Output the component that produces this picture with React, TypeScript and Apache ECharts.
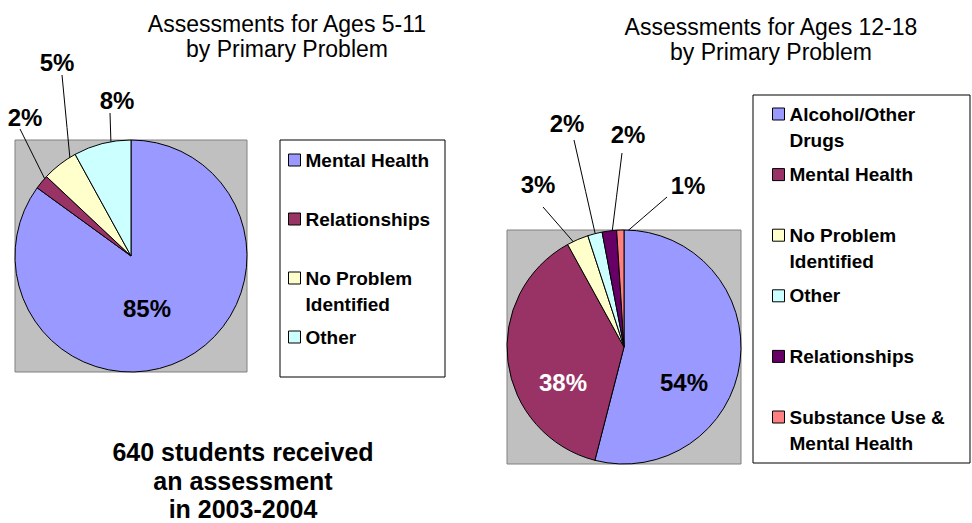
import React, { useEffect, useRef } from "react";
import * as echarts from "echarts";

// ---------- data ----------
const leftCategories = ["Mental Health", "Relationships", "No Problem Identified", "Other"];
const leftValues = [85, 2, 5, 8];
const leftLegendText = ["Mental Health", "Relationships", "No Problem\nIdentified", "Other"];

const rightCategories = [
  "Alcohol/Other Drugs",
  "Mental Health",
  "No Problem Identified",
  "Other",
  "Relationships",
  "Substance Use & Mental Health",
];
const rightValues = [54, 38, 3, 2, 2, 1];
const rightLegendText = [
  "Alcohol/Other\nDrugs",
  "Mental Health",
  "No Problem\nIdentified",
  "Other",
  "Relationships",
  "Substance Use &\nMental Health",
];

const leftTitle = ["Assessments for Ages 5-11", "by Primary Problem"];
const rightTitle = ["Assessments for Ages 12-18", "by Primary Problem"];
const footnote = ["640 students received", "an assessment", "in 2003-2004"];

// ---------- styles / layout ----------
const FONT = "'Liberation Sans', Arial, Helvetica, sans-serif";
const leftColors = ["#9999FF", "#993366", "#FFFFCC", "#CCFFFF"];
const rightColors = ["#9999FF", "#993366", "#FFFFCC", "#CCFFFF", "#660066", "#FF8080"];

const LEFT_PIE = { cx: 131, cy: 256, r: 116 };
const RIGHT_PIE = { cx: 624, cy: 347, r: 117 };

type Spot = { at: number[]; lineEnd?: number[]; lineFrom?: number; color?: string };
const leftLabelSpots: Spot[] = [
  { at: [147, 308] },
  { at: [25, 117], lineEnd: [20, 129], lineFrom: 0.91 },
  { at: [57, 62], lineEnd: [62, 75], lineFrom: 0.83 },
  { at: [117, 100], lineEnd: [110, 113], lineFrom: 0.65 },
];
const rightLabelSpots: Spot[] = [
  { at: [684, 382] },
  { at: [563, 382], color: "#ffffff" },
  { at: [538, 184], lineEnd: [543, 207], lineFrom: 0.87 },
  { at: [567, 123], lineEnd: [574, 140], lineFrom: 0.92 },
  { at: [628, 134], lineEnd: [622, 153], lineFrom: 0.9 },
  { at: [688, 185], lineEnd: [667, 197], lineFrom: 0.94 },
];

const LEGEND_LH = 26;

function makeLabelLayout(values: number[], pie: { cx: number; cy: number; r: number }, spots: Spot[]) {
  const total = values.reduce((a, b) => a + b, 0);
  return (params: any) => {
    const i = params.dataIndex;
    const spot = spots[i];
    const res: any = { x: spot.at[0], y: spot.at[1], align: "center", verticalAlign: "middle" };
    if (spot.lineEnd) {
      let cum = 0;
      for (let k = 0; k < i; k++) cum += values[k];
      const a = ((cum + values[i] / 2) / total) * Math.PI * 2;
      const rr = pie.r * (spot.lineFrom || 0.8);
      const s = [pie.cx + rr * Math.sin(a), pie.cy - rr * Math.cos(a)];
      const e = spot.lineEnd;
      res.labelLinePoints = [s, [(s[0] + e[0]) / 2, (s[1] + e[1]) / 2], e];
    }
    return res;
  };
}

function makePie(
  names: string[],
  values: number[],
  colors: string[],
  pie: { cx: number; cy: number; r: number },
  spots: Spot[]
) {
  return {
    type: "pie",
    center: [pie.cx, pie.cy],
    radius: pie.r,
    startAngle: 90,
    clockwise: true,
    avoidLabelOverlap: false,
    silent: true,
    z: 3,
    itemStyle: { borderColor: "#000", borderWidth: 1 },
    label: {
      show: true,
      position: "outside",
      formatter: "{c}%",
      fontFamily: FONT,
      fontSize: 24,
      fontWeight: "bold",
      color: "#000",
    },
    labelLine: { show: true, length: 10, length2: 0, lineStyle: { color: "#000", width: 1 } },
    labelLayout: makeLabelLayout(values, pie, spots),
    data: names.map((n, i) => {
      const d: any = { name: n, value: values[i], itemStyle: { color: colors[i] } };
      if (!spots[i].lineEnd) {
        d.label = { position: "inside", color: spots[i].color || "#000" };
        d.labelLine = { show: false };
      }
      return d;
    }),
  };
}

function makeLegends(
  names: string[],
  texts: string[],
  colors: string[],
  left: number,
  firstY: number,
  step: number
) {
  return names.map((n, i) => {
    const twoLine = texts[i].indexOf("\n") >= 0;
    const centerY = firstY + i * step;
    // a two-line entry gets an empty leading line so that its first line sits level with the swatch
    const shown = twoLine ? "\n" + texts[i] : texts[i];
    return {
      orient: "vertical",
      left,
      top: centerY - (twoLine ? 1.5 : 0.5) * LEGEND_LH,
      padding: 0,
      icon: "rect",
      itemWidth: 12,
      itemHeight: 12,
      itemGap: 0,
      selectedMode: false,
      z: 5,
      data: [{ name: n, itemStyle: { color: colors[i], borderColor: "#000", borderWidth: 1 } }],
      formatter: () => shown,
      textStyle: {
        fontFamily: FONT,
        fontSize: 19,
        fontWeight: "bold",
        color: "#000",
        lineHeight: LEGEND_LH,
      },
    };
  });
}

function textLines(lines: string[], x: number, firstY: number, size: number, lh: number, bold: boolean) {
  return lines.map((t, i) => ({
    type: "text",
    z: 10,
    style: {
      text: t,
      x,
      y: firstY + i * lh,
      fill: "#000",
      fontFamily: FONT,
      fontSize: size,
      fontWeight: bold ? "bold" : "normal",
      align: "center",
      verticalAlign: "middle",
      textAlign: "center",
      textVerticalAlign: "middle",
    },
  }));
}

function squareEl(p: { cx: number; cy: number; r: number }) {
  return {
    type: "rect",
    z: 0,
    shape: { x: p.cx - p.r, y: p.cy - p.r, width: p.r * 2, height: p.r * 2 },
    style: { fill: "#C0C0C0", stroke: "#808080", lineWidth: 1 },
  };
}

export default function App() {
  const ref = useRef<HTMLDivElement>(null);
  useEffect(() => {
    if (!ref.current) return;
    const chart = echarts.init(ref.current, null, { renderer: "svg", width: 972, height: 523 });
    const option: any = {
      animation: false,
      backgroundColor: "#ffffff",
      graphic: [
        squareEl(LEFT_PIE),
        squareEl(RIGHT_PIE),
        {
          type: "rect",
          z: 0,
          shape: { x: 280, y: 140, width: 165, height: 237 },
          style: { fill: "#ffffff", stroke: "#000", lineWidth: 1 },
        },
        {
          type: "rect",
          z: 0,
          shape: { x: 753, y: 95, width: 217, height: 368 },
          style: { fill: "#ffffff", stroke: "#000", lineWidth: 1 },
        },
        ...textLines(leftTitle, 287, 24, 23, 25, false),
        ...textLines(rightTitle, 771, 27, 23, 25, false),
        ...textLines(footnote, 243, 452, 25, 28.5, true),
      ],
      legend: [
        ...makeLegends(leftCategories, leftLegendText, leftColors, 288, 160, 59),
        ...makeLegends(rightCategories, rightLegendText, rightColors, 772, 114, 60.6),
      ],
      series: [
        makePie(leftCategories, leftValues, leftColors, LEFT_PIE, leftLabelSpots),
        makePie(rightCategories, rightValues, rightColors, RIGHT_PIE, rightLabelSpots),
      ],
    };
    chart.setOption(option);
    return () => chart.dispose();
  }, []);
  return (
    <div
      ref={ref}
      style={{ position: "fixed", left: 0, top: 0, width: 972, height: 523, background: "#fff" }}
    />
  );
}
